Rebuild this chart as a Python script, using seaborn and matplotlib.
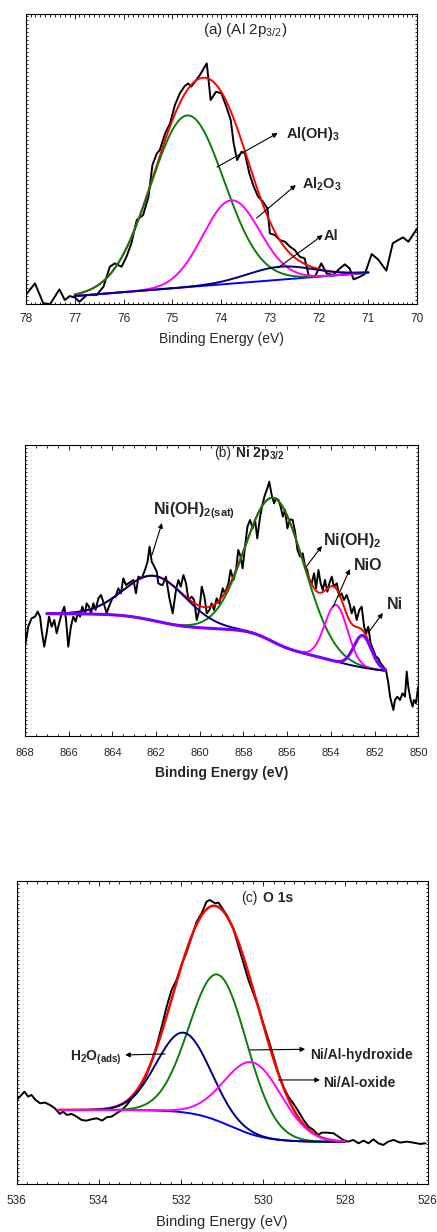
import numpy as np
import seaborn as sns
import matplotlib.pyplot as plt
from matplotlib.ticker import MultipleLocator

# ---------------- (a) Al 2p3/2 : measured spectrum ----------------
al_energy = [78.0, 77.81, 77.64, 77.5, 77.31, 77.2, 77.1, 77.0, 76.9, 76.75, 76.55, 76.41,
             76.28, 76.18, 76.04, 75.94, 75.84, 75.73, 75.6, 75.49, 75.41, 75.32, 75.26,
             75.15, 75.05, 74.95, 74.85, 74.75, 74.68, 74.62, 74.54, 74.44, 74.3, 74.22,
             74.11, 74.0, 73.9, 73.81, 73.75, 73.68, 73.59, 73.52, 73.43, 73.34, 73.25,
             73.15, 73.06, 73.01, 72.91, 72.81, 72.7, 72.6, 72.5, 72.4, 72.3, 72.21, 72.09,
             71.96, 71.85, 71.72, 71.58, 71.48, 71.38, 71.3, 71.17, 71.07, 70.93, 70.8,
             70.63, 70.5, 70.39, 70.29, 70.18, 70.0]
al_counts = [27, 62, 2, 0, 44, 12, 24, 20, 7, 27, 27, 52, 112, 122, 112, 142, 182, 252, 267,
             322, 417, 452, 462, 512, 542, 597, 632, 654, 662, 652, 667, 687, 722, 612, 637,
             632, 592, 552, 482, 432, 457, 452, 392, 352, 322, 307, 287, 212, 207, 192, 187,
             172, 162, 142, 137, 82, 82, 122, 92, 87, 107, 119, 107, 74, 82, 90, 150, 134,
             100, 182, 192, 200, 187, 227]
# fitted components: centre (eV), height, sigma (eV)
al_centres = [74.7, 73.8, 72.8]
al_heights = [515, 250, 39]
al_sigmas = [0.75, 0.58, 0.68]
al_colors = ['#0a7d0a', '#ff00ff', '#000080']
al_fit_range = [77.0, 71.0]
al_bg_levels = [24, 94]          # linear background at 77 and 71 eV

# ---------------- (b) Ni 2p3/2 : measured spectrum ----------------
ni_energy = [868.0, 867.85, 867.7, 867.54, 867.42, 867.31, 867.24, 867.12, 867.01, 866.9,
             866.78, 866.66, 866.55, 866.44, 866.32, 866.2, 866.12, 866.02, 865.9, 865.79,
             865.68, 865.59, 865.48, 865.38, 865.25, 865.18, 865.07, 864.98, 864.87, 864.77,
             864.64, 864.52, 864.42, 864.26, 864.16, 864.0, 863.85, 863.73, 863.61, 863.5,
             863.38, 863.27, 863.15, 863.04, 862.92, 862.81, 862.66, 862.51, 862.39, 862.3,
             862.2, 862.08, 861.97, 861.9, 861.75, 861.7, 861.55, 861.39, 861.24, 861.09,
             860.98, 860.87, 860.75, 860.63, 860.52, 860.37, 860.26, 860.14, 860.02, 859.91,
             859.79, 859.68, 859.56, 859.46, 859.35, 859.23, 859.11, 858.95, 858.85, 858.69,
             858.59, 858.46, 858.34, 858.24, 858.13, 858.04, 857.93, 857.82, 857.7, 857.58,
             857.47, 857.37, 857.24, 857.12, 857.02, 856.91, 856.82, 856.71, 856.6, 856.51,
             856.4, 856.3, 856.2, 856.1, 855.99, 855.87, 855.75, 855.64, 855.53, 855.41,
             855.29, 855.18, 855.08, 854.99, 854.88, 854.77, 854.68, 854.57, 854.47, 854.37,
             854.27, 854.16, 854.07, 853.96, 853.86, 853.73, 853.61, 853.51, 853.4, 853.28,
             853.15, 853.05, 852.94, 852.82, 852.7, 852.59, 852.48, 852.39, 852.29, 852.18,
             852.06, 851.94, 851.83, 851.72, 851.6, 851.48, 851.37, 851.29, 851.22, 851.14,
             851.07, 850.96, 850.84, 850.72, 850.61, 850.53, 850.46, 850.35, 850.26, 850.2,
             850.11, 850.0]
ni_counts = [268, 328, 353, 358, 373, 358, 318, 268, 308, 358, 328, 348, 308, 338, 368, 388,
             348, 268, 328, 358, 343, 368, 358, 388, 368, 398, 388, 368, 398, 378, 413, 423,
             403, 368, 388, 413, 418, 443, 428, 473, 453, 458, 463, 468, 428, 478, 473, 498,
             523, 568, 523, 508, 493, 458, 453, 453, 478, 413, 368, 438, 468, 448, 483, 458,
             408, 418, 408, 348, 378, 448, 418, 368, 378, 398, 378, 413, 398, 443, 428, 458,
             498, 468, 498, 558, 538, 503, 568, 628, 648, 623, 648, 593, 658, 698, 723, 743,
             763, 723, 698, 713, 708, 688, 658, 678, 623, 650, 648, 613, 558, 538, 548, 508,
             498, 468, 458, 488, 443, 498, 458, 438, 468, 433, 458, 478, 448, 458, 418, 428,
             408, 423, 398, 368, 388, 348, 378, 388, 328, 308, 328, 278, 258, 238, 233, 218,
             208, 198, 158, 118, 98, 78, 108, 118, 108, 128, 118, 193, 148, 108, 88, 108, 98,
             148]
ni_centres = [856.55, 853.76, 852.55, 862.0]
ni_heights = [433, 170, 96, 135]
ni_sigmas = [1.33, 0.52, 0.4, 1.42]
ni_colors = ['#0a7d0a', '#ff00ff', '#8000ff', '#000080']
ni_fit_range = [867.0, 851.5]
ni_bg_base = 187
ni_bg_steps = [(854.0, 1.2, 80), (856.8, 0.5, 55), (862.0, 0.8, 45)]   # centre, width, height

# ---------------- (c) O 1s : measured spectrum ----------------
o_energy = [536.0, 535.92, 535.81, 535.72, 535.64, 535.54, 535.43, 535.31, 535.19, 535.07,
            534.95, 534.87, 534.78, 534.66, 534.54, 534.42, 534.3, 534.18, 534.05, 533.92,
            533.81, 533.69, 533.57, 533.44, 533.32, 533.2, 533.08, 532.96, 532.84, 532.72,
            532.6, 532.47, 532.35, 532.23, 532.11, 531.99, 531.86, 531.74, 531.62, 531.5,
            531.38, 531.3, 531.17, 531.09, 530.97, 530.89, 530.73, 530.6, 530.48, 530.36,
            530.24, 530.12, 530.0, 529.87, 529.75, 529.63, 529.51, 529.39, 529.27, 529.14,
            529.02, 528.9, 528.78, 528.66, 528.58, 528.45, 528.29, 528.17, 528.05, 527.93,
            527.81, 527.68, 527.56, 527.44, 527.32, 527.2, 527.08, 526.96, 526.83, 526.67,
            526.51, 526.35, 526.18, 526.05]
o_counts = [252, 262, 277, 262, 267, 252, 242, 244, 237, 227, 210, 217, 207, 210, 202, 192,
            190, 194, 197, 190, 200, 202, 212, 222, 237, 257, 272, 297, 327, 367, 412, 472,
            532, 582, 612, 657, 697, 742, 787, 812, 847, 852, 842, 844, 822, 807, 767, 712,
            662, 612, 572, 532, 482, 432, 382, 332, 292, 262, 242, 217, 192, 172, 162, 147,
            154, 154, 152, 142, 132, 127, 132, 122, 130, 122, 134, 122, 117, 127, 132, 124,
            127, 124, 120, 122]
o_centres = [531.09, 531.94, 530.24]
o_heights = [439, 239, 217]
o_sigmas = [0.7, 0.65, 0.69]
o_colors = ['#0a7d0a', '#000080', '#ff00ff']
o_fit_range = [535.0, 528.0]
o_bg_base = 126
o_bg_steps = [(530.81, 0.45, 96)]


def gauss(e, c, h, s):
    return h * np.exp(-(e - c) ** 2 / (2 * s ** 2))


def step_bg(e, base, steps):
    out = np.full_like(e, float(base))
    for c, w, h in steps:
        out += h / (1 + np.exp(-(e - c) / w))
    return out


def line(ax, x, y, color, lw=1.4):
    sns.lineplot(x=x, y=y, ax=ax, color=color, lw=lw, sort=False, estimator=None)


def style_axis(ax, xlim, ylim, major, minor, fs, pad):
    ax.set_xlim(*xlim)
    ax.set_ylim(*ylim)
    ax.xaxis.set_major_locator(MultipleLocator(major))
    ax.xaxis.set_minor_locator(MultipleLocator(minor))
    ax.yaxis.set_major_locator(MultipleLocator(12))
    ax.tick_params(axis='both', which='both', direction='in', top=True, right=True,
                   width=0.6, color='black')
    ax.tick_params(axis='x', which='major', length=3.5, labelsize=fs, pad=pad)
    ax.tick_params(axis='x', which='minor', length=1.8)
    ax.tick_params(axis='y', which='major', length=1.6, labelleft=False)
    for s in ax.spines.values():
        s.set_color('black')
        s.set_linewidth(0.8)
    ax.set_ylabel('')


def arrow(ax, tail, head):
    ax.annotate('', xy=head, xytext=tail,
                arrowprops=dict(arrowstyle='-|>', color='black', lw=0.8,
                                mutation_scale=7, shrinkA=0, shrinkB=0))


sns.set_theme(style='ticks')
plt.rcParams['font.family'] = ['Liberation Sans', 'DejaVu Sans']
plt.rcParams['mathtext.fontset'] = 'custom'
plt.rcParams['mathtext.rm'] = 'Liberation Sans'
plt.rcParams['mathtext.bf'] = 'Liberation Sans:bold'
plt.rcParams['mathtext.it'] = 'Liberation Sans:italic'

fig = plt.figure(figsize=(4.37, 12.32), dpi=100)

# ======================= panel (a) =======================
ax = fig.add_axes([0.0587, 0.7532, 0.896, 0.2354])
e = np.linspace(al_fit_range[0], al_fit_range[1], 400)
bg = al_bg_levels[0] + (al_fit_range[0] - e) * (al_bg_levels[1] - al_bg_levels[0]) / (al_fit_range[0] - al_fit_range[1])
comps = [gauss(e, c, h, s) for c, h, s in zip(al_centres, al_heights, al_sigmas)]
line(ax, al_energy, al_counts, 'black')
line(ax, e, bg + sum(comps), '#ff0000')
line(ax, e, bg, '#0000ff')
for comp, col in zip(comps, al_colors):
    line(ax, e, bg + comp, col)
style_axis(ax, (78, 70), (0, 870), 1, 0.1, 8.5, 6.5)
ax.set_xlabel('Binding Energy (eV)', fontsize=10, labelpad=5)
ax.text(0.56, 0.93, r'(a) (Al 2p$_{\mathrm{3/2}}$)', transform=ax.transAxes,
        ha='center', va='baseline', fontsize=11)
lab = dict(fontsize=10.5, fontweight='bold', va='baseline')
ax.text(72.68, 497, r'Al(OH)$_{\mathbf{3}}$', **lab)
ax.text(72.35, 347, r'Al$_{\mathbf{2}}$O$_{\mathbf{3}}$', **lab)
ax.text(71.91, 192, 'Al', **lab)
arrow(ax, (74.09, 411), (72.85, 513))
arrow(ax, (73.28, 258), (72.48, 357))
arrow(ax, (72.85, 108), (71.93, 207))

# ======================= panel (b) =======================
ax = fig.add_axes([0.0572, 0.4026, 0.900, 0.2362])
e = np.linspace(ni_fit_range[0], ni_fit_range[1], 500)
bg = step_bg(e, ni_bg_base, ni_bg_steps)
comps = [gauss(e, c, h, s) for c, h, s in zip(ni_centres, ni_heights, ni_sigmas)]
line(ax, ni_energy, ni_counts, 'black')
line(ax, e, bg + sum(comps), '#ff0000')
line(ax, e, bg + comps[0], ni_colors[0])
line(ax, e, bg + comps[1], ni_colors[1])
line(ax, e, bg + comps[3], ni_colors[3])
line(ax, e, bg + comps[2], ni_colors[2], lw=2.2)
style_axis(ax, (868, 850), (0, 873), 2, 0.5, 8, 8.5)
ax.set_xlabel('Binding Energy (eV)', fontsize=10, fontweight='bold', labelpad=6)
ax.text(0.524, 0.958, '(b)', transform=ax.transAxes, ha='right', va='baseline', fontsize=10)
ax.text(0.534, 0.958, r'Ni 2p$_{\mathbf{3/2}}$', transform=ax.transAxes, ha='left',
        va='baseline', fontsize=10, fontweight='bold')
lab = dict(fontsize=11.5, fontweight='bold', va='baseline')
ax.text(862.13, 666, r'Ni(OH)$_{\mathbf{2(sat)}}$', **lab)
ax.text(854.38, 573, r'Ni(OH)$_{\mathbf{2}}$', **lab)
ax.text(852.97, 498, 'NiO', **lab)
ax.text(851.45, 380, 'Ni', **lab)
arrow(ax, (862.19, 543), (861.73, 639))
arrow(ax, (855.14, 507), (854.41, 570))
arrow(ax, (853.9, 387), (853.13, 501))
arrow(ax, (852.3, 309), (851.62, 369))

# ======================= panel (c) =======================
ax = fig.add_axes([0.0381, 0.039, 0.9405, 0.2462])
e = np.linspace(o_fit_range[0], o_fit_range[1], 400)
bg = step_bg(e, o_bg_base, o_bg_steps)
comps = [gauss(e, c, h, s) for c, h, s in zip(o_centres, o_heights, o_sigmas)]
line(ax, o_energy, o_counts, 'black')
line(ax, e, bg + sum(comps), '#ff0000', lw=1.8)
line(ax, e, bg, '#0000ff')
for comp, col in zip(comps, o_colors):
    line(ax, e, bg + comp, col)
style_axis(ax, (536, 526), (0, 910), 2, 0.25, 8.5, 8)
ax.set_xlabel('Binding Energy (eV)', fontsize=10.5, labelpad=6)
ax.text(0.587, 0.931, '(c)', transform=ax.transAxes, ha='right', va='baseline', fontsize=10)
ax.text(0.599, 0.931, 'O 1s', transform=ax.transAxes, ha='left', va='baseline',
        fontsize=10, fontweight='bold')
lab = dict(fontsize=10, fontweight='bold', va='baseline')
ax.text(534.70, 369, r'H$_{\mathbf{2}}$O$_{\mathbf{(ads)}}$', **lab)
ax.text(528.86, 375, 'Ni/Al-hydroxide', **lab)
ax.text(528.54, 292, 'Ni/Al-oxide', **lab)
arrow(ax, (532.39, 390), (533.36, 387))
arrow(ax, (530.32, 402), (528.98, 404))
arrow(ax, (529.63, 312), (528.62, 312))

fig.savefig('out.png', dpi=100, facecolor='white')
